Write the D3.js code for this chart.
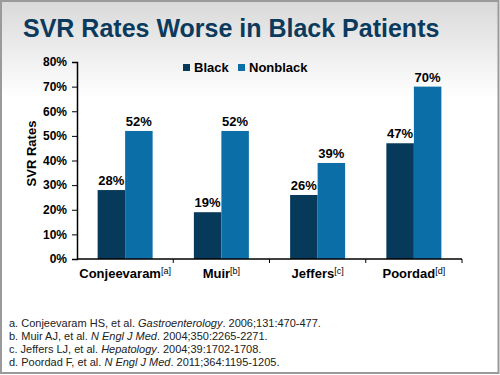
<!DOCTYPE html>
<html lang="en">
<head>
<meta charset="UTF-8">
<title>SVR Rates</title>
<script src="https://cdn.jsdelivr.net/npm/d3@7"></script>
<style>
    body { margin: 0; background: #fff; }
    text { font-family: "Liberation Sans", Arial, sans-serif; }
</style>
</head>
<body>
<div id="chart"></div>
<script>
    // data
    var studies = ["Conjeevaram", "Muir", "Jeffers", "Poordad"];
    var refs = ["a", "b", "c", "d"];
    var series = ["Black", "Nonblack"];
    var blackRates = [28, 19, 26, 47];
    var nonblackRates = [52, 52, 39, 70];
    var yTicks = [0, 10, 20, 30, 40, 50, 60, 70, 80];
    var footnotes = [
        ["a. Conjeevaram HS, et al. ", "Gastroenterology", ". 2006;131:470-477."],
        ["b. Muir AJ, et al. ", "N Engl J Med", ". 2004;350:2265-2271."],
        ["c. Jeffers LJ, et al. ", "Hepatology", ". 2004;39:1702-1708."],
        ["d. Poordad F, et al. ", "N Engl J Med", ". 2011;364:1195-1205."]
    ];

    var colors = {Black: "#06395a", Nonblack: "#0c6ea7"};

    var width = 500, height = 375;
    var margin = {top: 62, right: 38, bottom: 116, left: 77};
    var chartWidth = width - margin.left - margin.right;
    var chartHeight = height - margin.top - margin.bottom;

    var svg = d3.select("#chart").append("svg")
        .attr("width", width)
        .attr("height", height);

    // slide background
    var grad = svg.append("defs").append("linearGradient")
        .attr("id", "bg").attr("x1", 0).attr("y1", 0).attr("x2", 0).attr("y2", 1);
    grad.append("stop").attr("offset", "0%").attr("stop-color", "#d9d9d9");
    grad.append("stop").attr("offset", "17%").attr("stop-color", "#f2f2f2");
    grad.append("stop").attr("offset", "26%").attr("stop-color", "#ffffff");
    grad.append("stop").attr("offset", "100%").attr("stop-color", "#ffffff");

    svg.append("rect")
        .attr("x", 1).attr("y", 1)
        .attr("width", width - 2.5).attr("height", height - 3)
        .attr("fill", "url(#bg)")
        .attr("stroke", "#9a9a9a")
        .attr("stroke-width", 2);

    svg.append("text")
        .attr("x", 23).attr("y", 37)
        .attr("fill", "#0b3a5c")
        .style("font-size", "25px")
        .style("font-weight", "bold")
        .text("SVR Rates Worse in Black Patients");

    var g = svg.append("g")
        .attr("transform", "translate(" + margin.left + "," + margin.top + ")");

    var rows = studies.map(function(s, i) {
        return {study: s, ref: refs[i], Black: blackRates[i], Nonblack: nonblackRates[i]};
    });

    var x0 = d3.scaleBand().domain(studies).range([0, chartWidth]).padding(0);
    var groupW = 55;
    var x1 = d3.scaleBand().domain(series)
        .range([(x0.bandwidth() - groupW) / 2, (x0.bandwidth() + groupW) / 2]);
    var y = d3.scaleLinear().domain([0, 80]).range([chartHeight, 0]);

    var groups = g.selectAll(".grp")
        .data(rows)
        .join("g")
        .attr("class", "grp")
        .attr("transform", function(d) { return "translate(" + x0(d.study) + ",0)"; });

    groups.selectAll("rect")
        .data(function(d) { return series.map(function(k) { return {key: k, value: d[k]}; }); })
        .join("rect")
        .attr("x", function(d) { return x1(d.key); })
        .attr("y", function(d) { return y(d.value); })
        .attr("width", x1.bandwidth())
        .attr("height", function(d) { return chartHeight - y(d.value); })
        .attr("fill", function(d) { return colors[d.key]; });

    groups.selectAll(".val")
        .data(function(d) { return series.map(function(k) { return {key: k, value: d[k]}; }); })
        .join("text")
        .attr("class", "val")
        .attr("x", function(d) { return x1(d.key) + x1.bandwidth() / 2; })
        .attr("y", function(d) { return y(d.value) - 5; })
        .attr("text-anchor", "middle")
        .style("font-size", "13px")
        .style("font-weight", "bold")
        .text(function(d) { return d.value + "%"; });

    // y axis
    var yAxis = g.append("g")
        .call(d3.axisLeft(y).tickValues(yTicks).tickSize(5).tickFormat(function(d) { return d + "%"; }));
    yAxis.selectAll("text")
        .style("font-size", "12px")
        .style("font-weight", "bold")
        .attr("fill", "#000")
        .attr("x", -10);
    yAxis.select(".domain").attr("stroke", "#000").attr("stroke-width", 1.5);

    // x axis: ticks at band edges
    var xAxis = g.append("g").attr("transform", "translate(0," + chartHeight + ")");
    xAxis.append("line")
        .attr("x1", 0).attr("x2", chartWidth)
        .attr("stroke", "#000").attr("stroke-width", 1.5);
    xAxis.selectAll(".xt")
        .data(studies)
        .join("line")
        .attr("class", "xt")
        .attr("x1", function(d) { return x0(d) + x0.bandwidth(); })
        .attr("x2", function(d) { return x0(d) + x0.bandwidth(); })
        .attr("y1", 0).attr("y2", 4)
        .attr("stroke", "#000");

    var labels = xAxis.selectAll(".xl")
        .data(rows)
        .join("text")
        .attr("class", "xl")
        .attr("x", function(d) { return x0(d.study) + x0.bandwidth() / 2; })
        .attr("y", 19)
        .attr("text-anchor", "middle")
        .style("font-size", "13px")
        .style("font-weight", "bold");
    labels.append("tspan").text(function(d) { return d.study; });
    labels.append("tspan")
        .attr("dy", -4)
        .style("font-size", "9px")
        .style("font-weight", "normal")
        .text(function(d) { return "[" + d.ref + "]"; });

    // y label
    g.append("text")
        .attr("transform", "translate(-41," + (chartHeight / 2 - 7) + ") rotate(-90)")
        .attr("text-anchor", "middle")
        .style("font-size", "13px")
        .style("font-weight", "bold")
        .text("SVR Rates");

    // legend
    var legend = svg.append("g").attr("transform", "translate(183,63)");
    var lx = [0, 55];
    var li = legend.selectAll("g")
        .data(series)
        .join("g")
        .attr("transform", function(d, i) { return "translate(" + lx[i] + ",0)"; });
    li.append("rect")
        .attr("width", 7).attr("height", 7)
        .attr("y", 1)
        .attr("fill", function(d) { return colors[d]; });
    li.append("text")
        .attr("x", 11).attr("y", 9)
        .style("font-size", "13px")
        .style("font-weight", "bold")
        .text(function(d) { return d; });

    // footnotes
    var notes = svg.append("g");
    notes.selectAll("text")
        .data(footnotes)
        .join("text")
        .attr("x", 9)
        .attr("y", function(d, i) { return 327 + i * 13; })
        .style("font-size", "11px")
        .attr("fill", "#222")
        .each(function(d) {
            var t = d3.select(this);
            t.append("tspan").text(d[0]);
            t.append("tspan").style("font-style", "italic").text(d[1]);
            t.append("tspan").text(d[2]);
        });
</script>
</body>
</html>
